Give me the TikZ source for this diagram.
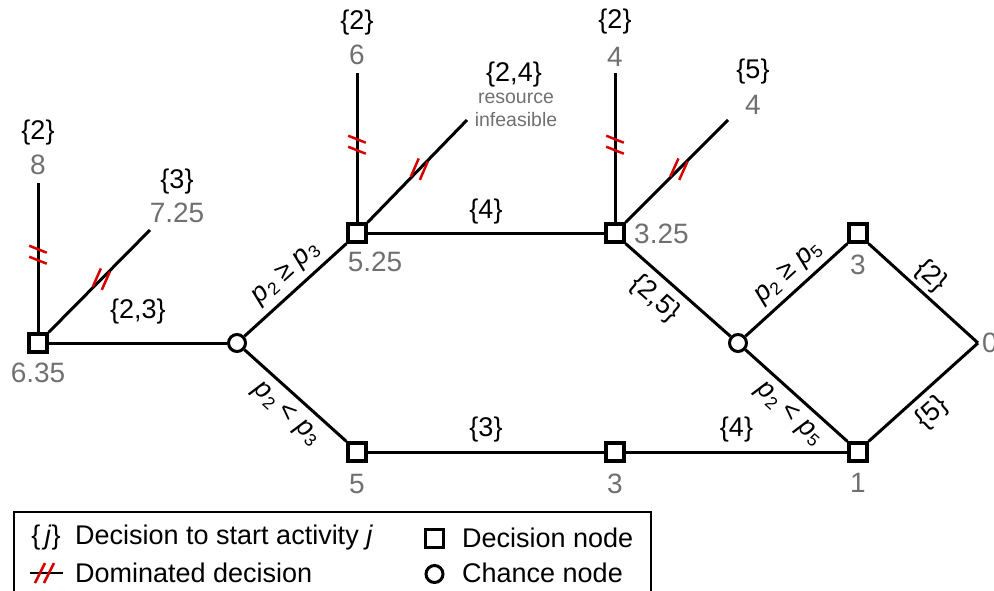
\documentclass[tikz,border=0pt]{standalone}
\usepackage{fontspec}
\setmainfont{Liberation Sans}
\usetikzlibrary{decorations.markings}
\definecolor{numgray}{RGB}{112,112,112}
\definecolor{domred}{RGB}{215,0,0}
\newcommand\prob[1]{\textit{p}\kern0.5pt\raisebox{-4pt}{\fontsize{17.5}{17.5}\selectfont #1}}
\newcommand\lblfont{\fontsize{27}{29}\selectfont}
\newcommand\numfont{\fontsize{28}{30}\selectfont}
\tikzset{
  dnode/.style={draw, line width=3.2pt, fill=white, rectangle, minimum size=18pt, inner sep=0pt},
  cnode/.style={draw, line width=3pt, fill=white, circle, minimum size=17pt, inner sep=0pt},
  branch/.style={line width=3pt},
  redstroke/.style={domred, line width=2.5pt},
  lbl/.style={font=\lblfont, inner sep=1pt},
  num/.style={font=\numfont, text=numgray, inner sep=1pt},
  smallgray/.style={font=\fontsize{19.5}{21}\selectfont, text=numgray, inner sep=1pt},
  domv/.style={postaction={decorate, decoration={markings, mark=at position 0.52 with {
     \begin{scope}[rotate=-90]
     \draw[redstroke] (8.8pt,2pt) -- (-8.8pt,9pt);
     \draw[redstroke] (8.8pt,-9pt) -- (-8.8pt,-2pt);
     \end{scope}}}}},
  domd/.style={postaction={decorate, decoration={markings, mark=at position 0.52 with {
     \begin{scope}[rotate=-45]
     \draw[redstroke] (-8.6pt,-7.5pt) -- (-0.4pt,10.7pt);
     \draw[redstroke] (0.4pt,-10.7pt) -- (8.6pt,7.5pt);
     \end{scope}}}}},
}
\begin{document}
\begin{tikzpicture}[x=1pt,y=-1pt]
\useasboundingbox (0,0) rectangle (994,590);

% nodes
\node[dnode] (A) at (38,343) {};
\node[cnode] (C1) at (237,343) {};
\node[dnode] (B) at (357,233) {};
\node[dnode] (D) at (357,452) {};
\node[dnode] (E) at (615,233) {};
\node[dnode] (F) at (615,452) {};
\node[cnode] (C2) at (738,343) {};
\node[dnode] (G) at (858,233) {};
\node[dnode] (H) at (858,452) {};
\coordinate (T) at (978,343);
\coordinate (Av) at (38,183);
\coordinate (Ad) at (150,230);
\coordinate (Bv) at (357,73);
\coordinate (Bd) at (467,120);
\coordinate (Ev) at (615,73);
\coordinate (Ed) at (728,120);

% main branches
\draw[branch] (A) -- node[lbl, yshift=31pt] {\{2,3\}} (C1);
\draw[branch] (C1) -- node[lbl, sloped, pos=0.53, above=5pt] {\prob{2} ≥ \prob{3}} (B.south west);
\draw[branch] (C1) -- node[lbl, sloped, pos=0.54, below=7pt] {\prob{2} < \prob{3}} (D.north west);
\draw[branch] (B) -- node[lbl, yshift=21pt] {\{4\}} (E);
\draw[branch] (D) -- node[lbl, yshift=22pt] {\{3\}} (F);
\draw[branch] (F) -- node[lbl, yshift=22pt] {\{4\}} (H);
\draw[branch] (E.south east) -- node[lbl, sloped, pos=0.42, below=7pt] {\{2,5\}} (C2);
\draw[branch] (C2) -- node[lbl, sloped, pos=0.54, above=4.5pt] {\prob{2} ≥ \prob{5}} (G.south west);
\draw[branch] (C2) -- node[lbl, sloped, pos=0.55, below=6pt] {\prob{2} < \prob{5}} (H.north west);
\draw[branch] (G.south east) -- node[lbl, sloped, pos=0.46, above=3pt] {\{2\}} (T);
\draw[branch] (H.north east) -- node[lbl, sloped, pos=0.45, below=6pt] {\{5\}} (T);

% dominated branches
\draw[branch, domv] (A) -- (Av);
\draw[branch, domd] (A.north east) -- (Ad);
\draw[branch, domv] (B) -- (Bv);
\draw[branch, domd] (B.north east) -- (Bd);
\draw[branch, domv] (E) -- (Ev);
\draw[branch, domd] (E.north east) -- (Ed);

% labels at leaves
\node[lbl] (lA1) at (38,133) {\{2\}};
\node[num] (vA1) at (38,165) {8};
\node[lbl] (lA2) at (177,182) {\{3\}};
\node[num] (vA2) at (177,213) {7.25};
\node[lbl] (lB1) at (357,23) {\{2\}};
\node[num] (vB1) at (357,55) {6};
\node[lbl] (lB2) at (514,75) {\{2,4\}};
\node[smallgray] (rB2) at (516,98) {resource};
\node[smallgray] (iB2) at (516,120) {infeasible};
\node[lbl] (lE1) at (615,22) {\{2\}};
\node[num] (vE1) at (615,57) {4};
\node[lbl] (lE2) at (753,72) {\{5\}};
\node[num] (vE2) at (753,105) {4};

% values at decision nodes
\node[num] (vA) at (38,373) {6.35};
\node[num] (vB) at (375,262) {5.25};
\node[num, anchor=west] (vE) at (633,234) {3.25};
\node[num] (vG) at (858,265) {3};
\node[num] (vD) at (357,484) {5};
\node[num] (vF) at (615,484) {3};
\node[num] (vH) at (858,483) {1};
\node[num, anchor=west] (vT) at (981,343) {0};

% legend
\draw[line width=1.8pt] (14,512) rectangle (651,620);
\node[lbl] (lj) at (46,538) {\{\,\textit{j}\}};
\node[lbl, anchor=west] (ljt) at (74,538) {Decision to start activity \textit{j}};
\coordinate (ldA) at (30,573);
\coordinate (ldB) at (63,573);
\draw[line width=2pt] (ldA) -- (ldB);
\draw[redstroke] (35,583) -- (45,563);
\draw[redstroke] (44,583) -- (54,563);
\node[lbl, anchor=west] (ldt) at (74,573) {Dominated decision};
\node[dnode, line width=3pt] (lsq) at (434.5,538) {};
\node[lbl, anchor=west] (lsqt) at (461,538) {Decision node};
\node[cnode] (lci) at (434.5,574) {};
\node[lbl, anchor=west] (lcit) at (461,573) {Chance node};
\end{tikzpicture}
\end{document}
